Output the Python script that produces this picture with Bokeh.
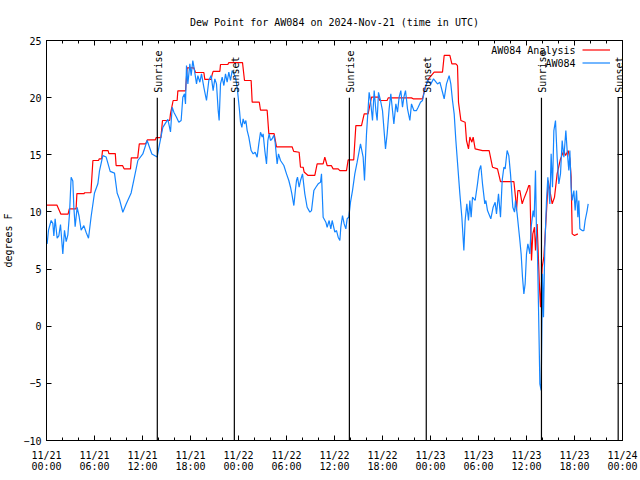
import math
import pandas as pd
from bokeh.plotting import figure
from bokeh.models import (Range1d, FixedTicker, DatetimeTickFormatter, DatetimeAxis,
                          LinearAxis, ColumnDataSource, LabelSet, Label, Legend, LegendItem)
from bokeh.embed import file_html
from bokeh.resources import INLINE
from bokeh.core.properties import value

BASE = pd.Timestamp("2024-11-21 00:00")
FONT = "DejaVu Sans Mono"

# ---- observed dew point (AW084), hours since 2024-11-21 00:00 UTC ----
obs_hours = [0.08, 0.25, 0.58, 0.79, 0.92, 1.08, 1.33, 1.54, 1.75, 2.04, 2.25, 2.46, 2.67, 2.875,
             3.08, 3.29, 3.42, 3.58, 3.83, 4.08, 4.33, 4.67, 4.96, 5.25, 5.58, 6.0, 6.42, 6.625,
             7.04, 7.46, 7.96, 8.5, 8.83, 9.125, 9.54, 9.96, 10.58, 10.92, 11.42, 12.04, 12.58,
             13.17, 13.83, 14.04, 14.54, 15.17, 15.5,
             15.71, 15.92, 16.25, 16.54, 16.83, 17.04, 17.25, 17.375, 17.5, 17.67, 17.92, 18.08,
             18.29, 18.5, 18.75, 18.92, 19.17, 19.375, 19.67, 20.0, 20.29, 20.58, 20.83, 21.04,
             21.25, 21.46, 21.58, 21.75, 21.96, 22.17, 22.375, 22.58, 22.79, 23.0, 23.21, 23.42,
             23.625, 23.83, 23.96, 24.125, 24.25, 24.42, 24.58, 24.75, 24.92, 25.08, 25.29, 25.58,
             25.83, 26.08, 26.33, 26.54, 26.75, 26.96, 27.08, 27.29, 27.5, 27.67, 27.83, 28.0,
             28.21, 28.42, 28.58, 28.75, 28.83, 29.0, 29.25, 29.67, 30.0, 30.29, 30.5, 30.67,
             30.92, 31.125,
             31.25, 31.375, 31.58, 31.75, 32.0, 32.29, 32.58, 32.92, 33.125, 33.42, 33.67, 33.96,
             34.25, 34.375, 34.58, 34.92, 35.08, 35.33, 35.54, 35.71, 36.04, 36.25, 36.46, 36.67,
             36.79, 37.0, 37.21, 37.42, 37.58, 37.79, 38.0, 38.25, 38.54, 38.83, 39.25, 39.58,
             39.75, 40.0, 40.33, 40.5, 40.75, 40.96, 41.17, 41.33, 41.5, 41.75, 42.0, 42.375,
             42.58, 42.83, 43.04, 43.25, 43.42, 43.67, 43.875, 44.08, 44.29, 44.5, 44.67, 44.875,
             45.125, 45.42, 45.625, 45.92, 46.25, 46.46, 46.75,
             47.0, 47.21, 47.625, 48.04, 48.375, 48.875, 49.17, 49.5, 49.71, 50.0, 50.33, 50.54,
             50.75, 50.96, 51.17, 51.42, 51.67, 51.92, 52.17, 52.33, 52.54, 52.75, 52.92, 53.08,
             53.25, 53.58, 53.875, 54.08, 54.29, 54.5, 54.79, 54.92, 55.125, 55.54, 55.83, 56.08,
             56.25, 56.5,
             56.75, 56.96, 57.17, 57.33, 57.58, 57.79, 58.0, 58.29, 58.5, 58.625, 58.83, 59.0,
             59.17, 59.33, 59.5, 59.67, 59.83, 60.0, 60.17, 60.42, 60.58, 60.83, 60.96, 61.125,
             61.25, 61.375, 61.5, 61.67, 61.83, 62.0, 62.125, 62.29, 62.5, 62.67, 62.92, 63.08,
             63.25, 63.42, 63.625, 63.83, 64.04, 64.25, 64.46, 64.67, 64.92, 65.08, 65.29, 65.42,
             65.58, 65.71, 65.92, 66.08, 66.25, 66.42, 66.54, 66.67, 66.96, 67.17, 67.33, 67.58,
             67.71]
obs_dewp = [7.2, 8.4, 9.25, 9.0, 7.9, 9.4, 7.7, 7.9, 8.9, 6.33, 8.4, 7.4, 8.0, 9.83,
            13.04, 12.7, 10.4, 8.7, 10.4, 9.6, 8.4, 8.8, 8.2, 7.7, 9.6, 11.66, 12.46, 13.6,
            14.93, 14.8, 13.55, 13.4, 11.66, 11.1, 9.97, 10.7, 11.66, 12.8, 14.5, 15.07, 16.25,
            15.07, 14.8, 15.6, 17.4, 18.1, 17.0,
            19.16, 18.73, 18.29, 17.85, 18.0, 20.04, 20.33, 19.45, 22.81, 21.2, 22.95, 21.93,
            23.25, 22.37, 21.2, 21.93, 21.35, 22.08, 20.9, 19.75, 21.5, 21.93, 20.62, 21.64,
            21.2, 18.87, 18.0, 21.2, 21.79, 21.06, 22.08, 21.35, 22.23, 21.5, 22.37, 22.08,
            21.79, 20.9, 20.04, 18.87, 17.85, 17.4, 18.14, 17.7, 18.0, 17.14, 16.55, 15.37,
            15.08, 15.22, 14.79, 15.95, 16.97, 16.55, 16.83, 15.37, 14.2, 16.25, 16.83, 16.25,
            16.4, 16.7, 16.1, 14.79, 14.2, 15.08, 14.5, 14.06, 13.33, 12.75, 12.16, 11.58,
            10.56, 12.0,
            12.75, 13.04, 12.16, 12.75, 13.33, 11.58, 10.41, 9.98, 10.12, 11.87, 12.16, 12.46,
            12.6, 13.33, 9.54, 9.1, 8.66, 9.25, 8.52, 9.25, 8.23, 8.37, 7.79, 7.5,
            8.66, 9.68, 8.95, 8.52, 9.4, 9.54, 10.85, 11.87, 13.33, 14.35, 15.95, 14.79,
            12.75, 16.83, 20.47, 19.75, 18.0, 20.62, 18.87, 18.0, 20.47, 19.75, 18.87, 15.52,
            16.83, 19.02, 20.33, 18.87, 17.7, 19.45, 18.73, 20.04, 20.62, 19.16, 20.04, 20.62,
            19.02, 18.0, 19.45, 18.87, 18.87, 19.16, 19.6,
            19.75, 20.47, 21.5, 21.2, 21.64, 21.2, 21.35, 20.47, 19.9, 21.2, 21.93, 21.2,
            19.75, 18.58, 16.25, 13.91, 11.58, 9.54, 6.62, 9.25, 10.7, 9.25, 11.0, 9.54,
            11.29, 11.0, 12.46, 13.62, 14.06, 12.46, 10.7, 11.0, 10.12, 9.4, 10.41, 10.85,
            9.83, 11.58,
            9.54, 12.75, 13.91, 13.77, 15.37, 14.93, 13.33, 10.41, 9.98, 11.0, 9.83, 8.66,
            7.5, 6.33, 4.29, 2.83, 3.7, 6.33, 7.2, 6.33, 8.66, 10.12, 9.54, 13.62,
            8.08, 6.33, 1.67, -5.04, -5.62, 4.58, 0.79, 6.91, 11.0, 13.04, 10.7, 15.08,
            12.16, 17.12, 18.0, 14.79, 12.45, 13.33, 16.25, 14.79, 17.12, 15.37, 13.62, 15.37,
            12.16, 11.0, 11.87, 10.12, 11.87, 9.54, 11.0, 8.52, 8.37, 8.37, 9.25, 10.12,
            10.7]

# ---- analysis dew point (AW084 Analysis) ----
anl_hours = [0.0, 1.3, 1.8, 2.7, 2.85, 3.7, 3.8, 4.7, 4.75, 5.55, 5.8, 6.5, 6.6, 6.9, 7.0, 7.7,
             7.8, 8.6, 8.7, 9.5, 9.7, 10.5, 10.6, 11.4, 11.6, 12.4, 12.6, 13.6, 13.7, 14.3, 14.5,
             15.4, 15.5, 15.83, 16.33, 16.42, 17.375, 17.58, 18.42, 18.625, 19.67, 19.79, 20.58,
             20.7, 20.83, 21.67, 21.75, 22.67, 22.79, 24.5, 24.75, 25.58, 25.71, 26.6, 26.75,
             27.58, 27.79, 28.45, 28.75, 30.7, 30.9, 31.58, 31.75, 32.08, 32.2, 32.7, 33.54,
             33.83, 34.58, 34.79, 35.08, 35.6, 35.83, 36.46, 36.67, 37.5, 37.71, 38.4, 38.67,
             39.375, 39.71, 40.2, 40.625, 41.5, 41.67, 42.58, 42.71, 45.625, 45.83, 47.0, 47.33,
             47.75, 48.46, 49.5, 49.71, 50.42, 50.67, 51.17, 51.375, 51.5, 51.8, 52.33, 52.5,
             52.75, 52.92, 53.17, 53.33, 53.58, 54.5, 55.33, 55.75, 56.375, 56.75, 58.42,
             58.625, 58.75, 58.92, 59.17, 59.46, 59.67, 60.08, 60.29, 60.42, 60.625, 60.79, 61.0,
             61.125, 61.33, 61.625, 61.75, 61.96, 62.17, 62.29, 62.58, 62.71, 63.21, 63.5, 63.83,
             64.25, 64.67, 64.875, 65.21, 65.42, 65.58, 65.71, 66.0, 66.42]
anl_dewp = [10.6, 10.6, 9.8, 9.8, 10.27, 10.27, 11.6, 11.6, 11.68, 11.68, 14.5, 14.5, 14.65,
            14.65, 15.37, 15.37, 15.1, 15.1, 14.06, 14.06, 13.77, 13.77, 14.73, 14.73, 15.96,
            15.96, 16.3, 16.3, 16.5, 16.5, 18.0, 18.0, 18.6, 19.75, 19.75, 20.6, 20.6, 22.6,
            22.6, 22.2, 22.2, 21.6, 21.6, 22.0, 22.3, 22.3, 22.9, 22.9, 23.07, 23.07, 21.5,
            21.5, 19.6, 19.6, 18.9, 18.9, 16.85, 16.85, 15.7, 15.7, 15.3, 15.22, 13.91, 13.91,
            13.5, 13.19, 13.19, 14.2, 14.2, 14.79, 14.06, 14.06, 13.77, 13.77, 13.62, 13.62,
            14.55, 14.55, 17.56, 17.56, 18.58, 18.58, 20.04, 20.04, 19.75, 19.75, 19.98, 19.98,
            19.9, 19.9, 20.9, 21.64, 22.23, 22.23, 23.69, 23.69, 22.96, 22.96, 22.8, 19.6, 18.0,
            17.85, 16.25, 15.52, 16.55, 16.1, 16.55, 15.52, 15.37, 15.37, 13.91, 13.77, 12.66,
            12.66, 11.29, 10.12, 11.87, 11.87, 10.7, 11.14, 11.87, 12.31, 12.31, 5.75, 8.08,
            8.66, 6.62, 8.95, 3.41, 1.67, 5.17, 6.04, 7.5, 11.0, 12.75, 10.7, 11.29, 13.33,
            14.64, 15.37, 14.93, 15.37, 14.64, 13.04, 8.08, 7.93, 8.08]

# ---- sunrise / sunset markers ----
sun_hours = [13.85, 23.48, 37.86, 47.47, 61.87, 71.46]
sun_labels = ["Sunrise", "Sunset", "Sunrise", "Sunset", "Sunrise", "Sunset"]
sun_bottom = -10
sun_top = 20

y_ticks = [-10, -5, 0, 5, 10, 15, 20, 25]
x_major_hours = list(range(0, 73, 6))
x_minor_hours = list(range(0, 73, 2))


def to_time(hours):
    return [BASE + pd.Timedelta(hours=h) for h in hours]


def to_ms(hours):
    return [(BASE + pd.Timedelta(hours=h)).value / 1e6 for h in hours]


obs_src = ColumnDataSource(dict(t=to_time(obs_hours), v=obs_dewp))
anl_src = ColumnDataSource(dict(t=to_time(anl_hours), v=anl_dewp))
sun_src = ColumnDataSource(dict(t=to_time(sun_hours), lab=sun_labels,
                                y0=[sun_bottom] * len(sun_hours), y1=[sun_top] * len(sun_hours)))

p = figure(width=640, height=480, x_axis_type="datetime", output_backend="svg",
           toolbar_location=None,
           x_range=Range1d(BASE, BASE + pd.Timedelta(hours=72)),
           y_range=Range1d(-10, 25),
           min_border_left=46, min_border_right=18, min_border_top=40, min_border_bottom=40)

p.title.text = "Dew Point for AW084 on 2024-Nov-21 (time in UTC)"
p.title.align = "center"
p.title.text_font = FONT
p.title.text_font_size = "10px"
p.title.text_font_style = "normal"
p.title.text_color = "black"
p.title.standoff = 26

p.grid.visible = False
p.outline_line_color = "black"
p.outline_line_width = 1
p.background_fill_color = "white"
p.border_fill_color = "white"

xticker = FixedTicker(ticks=to_ms(x_major_hours), minor_ticks=to_ms(x_minor_hours))
fmt = "%m/%d\n%H:%M"
xfmt = DatetimeTickFormatter(microseconds=fmt, milliseconds=fmt, seconds=fmt, minsec=fmt,
                             minutes=fmt, hourmin=fmt, hours=fmt, days=fmt, months=fmt, years=fmt)
yticker = FixedTicker(ticks=y_ticks, minor_ticks=[])


def style_axis(ax):
    ax.major_tick_in = 5
    ax.major_tick_out = 0
    ax.minor_tick_in = 3
    ax.minor_tick_out = 0
    ax.axis_line_color = "black"
    ax.major_tick_line_color = "black"
    ax.minor_tick_line_color = "black"
    ax.major_label_text_font = FONT
    ax.major_label_text_font_size = "10px"
    ax.major_label_text_color = "black"


xa = p.xaxis[0]
xa.ticker = xticker
xa.formatter = xfmt
style_axis(xa)
xa.major_label_standoff = 9
xa.major_label_text_line_height = 1.0

ya = p.yaxis[0]
ya.ticker = yticker
style_axis(ya)
ya.major_label_standoff = 5
ya.axis_label = "degrees F"
ya.axis_label_text_font = FONT
ya.axis_label_text_font_size = "10px"
ya.axis_label_text_font_style = "normal"
ya.axis_label_text_color = "black"
ya.axis_label_standoff = 6

top = DatetimeAxis(ticker=xticker, formatter=xfmt)
style_axis(top)
top.major_label_overrides = {t: "" for t in to_ms(x_major_hours)}
top.major_label_standoff = 0
p.add_layout(top, "above")

right = LinearAxis(ticker=yticker)
style_axis(right)
right.major_label_overrides = {t: "" for t in y_ticks}
right.major_label_standoff = 0
p.add_layout(right, "right")

r_anl = p.line("t", "v", source=anl_src, line_color="#ff0000", line_width=1.2)
r_obs = p.line("t", "v", source=obs_src, line_color="#1485ff", line_width=1.2)

p.segment(x0="t", y0="y0", x1="t", y1="y1", source=sun_src, line_color="black", line_width=1.2)

sun_labels_set = LabelSet(x="t", y="y1", text="lab", source=sun_src, angle=math.pi / 2,
                          text_align="left", text_baseline="middle", x_offset=1, y_offset=5,
                          text_font=value(FONT), text_font_size=value("10px"), text_color="black")
p.add_layout(sun_labels_set)

legend = Legend(items=[LegendItem(label="", renderers=[r_anl]),
                       LegendItem(label="", renderers=[r_obs])],
                location=(536, 372), glyph_width=28, glyph_height=11, label_height=11,
                label_width=0, label_standoff=0, spacing=2, padding=0, margin=0,
                border_line_color=None, background_fill_alpha=0, label_text_font_size="10px")
p.add_layout(legend)

leg_x = to_ms([66.125])[0]
for txt, yv in [("AW084 Analysis", 24.12), ("AW084", 22.96)]:
    p.add_layout(Label(x=leg_x, y=yv, text=txt, text_align="right", text_baseline="middle",
                       text_font=FONT, text_font_size="10px", text_color="black"))

open("out.html", "w").write(file_html(p, INLINE))
